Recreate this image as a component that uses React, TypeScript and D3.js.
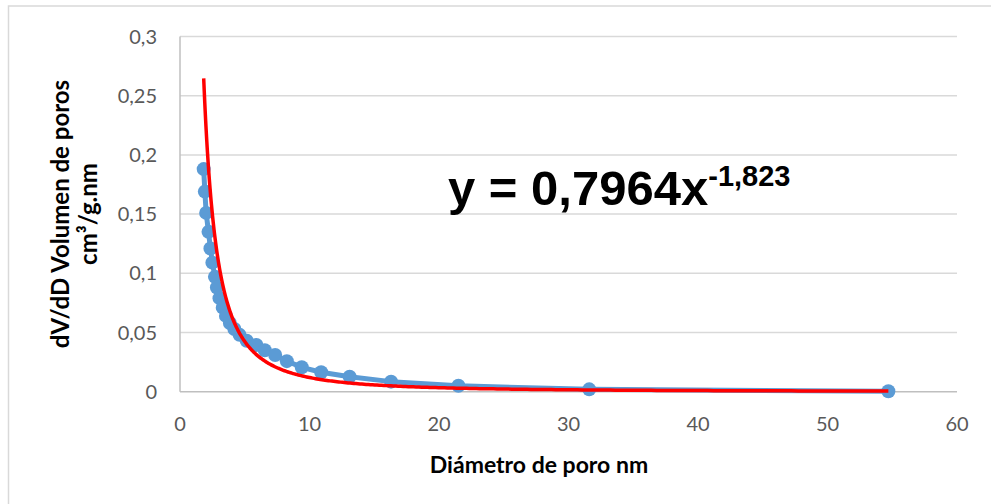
import React from "react";
import * as d3 from "d3";

// Pore diameter (nm) and dV/dD pore volume (cm³/g·nm)
const diameters = [1.83, 1.92, 2.02, 2.2, 2.35, 2.5, 2.7, 2.85, 3.05, 3.3, 3.55, 3.85, 4.2, 4.6, 5.15, 5.9, 6.55, 7.35, 8.25, 9.4, 10.9, 13.1, 16.3, 21.5, 31.6, 54.7];
const volumes = [0.188, 0.169, 0.151, 0.135, 0.121, 0.109, 0.097, 0.088, 0.079, 0.071, 0.064, 0.058, 0.053, 0.048, 0.043, 0.0395, 0.035, 0.031, 0.0258, 0.0206, 0.0164, 0.0127, 0.0085, 0.005, 0.002, 0.0004];

// Power trendline y = a·x^b
const fitA = 0.7964;
const fitB = -1.823;

const xTicks = [0, 10, 20, 30, 40, 50, 60];
const yTicks = [0, 0.05, 0.1, 0.15, 0.2, 0.25, 0.3];

const W = 991;
const H = 504;
const plot = { left: 180, right: 957, top: 36.5, bottom: 391.7 };

const fmt = (v: number) => String(v).replace(".", ",");

export default function App() {
  const x = d3.scaleLinear().domain([0, 60]).range([plot.left, plot.right]);
  const y = d3.scaleLinear().domain([0, 0.3]).range([plot.bottom, plot.top]);

  const points = diameters.map((d, i) => [d, volumes[i]] as [number, number]);
  const dataLine = d3.line<[number, number]>().x((p) => x(p[0])).y((p) => y(p[1]));

  const x0 = d3.min(diameters)!;
  const x1 = d3.max(diameters)!;
  const logScale = d3.scaleLog().domain([x0, x1]);
  const trend: [number, number][] = d3.range(0, 301).map((i) => {
    const xv = logScale.invert(i / 300);
    return [xv, fitA * Math.pow(xv, fitB)];
  });

  const font = "Lato, 'Open Sans', sans-serif";

  return (
    <svg width={W} height={H} style={{ position: "absolute", left: 0, top: 0, background: "#fff" }}>
      <rect x={0} y={0} width={W} height={H} fill="#fff" />
      <rect x={8.5} y={6} width={W + 20} height={H + 20} fill="none" stroke="#d9d9d9" strokeWidth={1.5} />

      {/* gridlines */}
      {yTicks.filter((t) => t > 0).map((t) => (
        <line key={t} x1={plot.left} x2={plot.right} y1={y(t)} y2={y(t)} stroke="#d9d9d9" strokeWidth={1.5} />
      ))}
      {/* axes */}
      <line x1={plot.left} x2={plot.left} y1={plot.top} y2={plot.bottom} stroke="#bfbfbf" strokeWidth={1.5} />
      <line x1={plot.left} x2={plot.right} y1={plot.bottom} y2={plot.bottom} stroke="#bfbfbf" strokeWidth={1.5} />

      {/* tick labels */}
      {yTicks.map((t) => (
        <text key={t} x={157} y={y(t)} dy="0.35em" textAnchor="end" fontFamily={font} fontSize={20} fill="#595959">
          {fmt(t)}
        </text>
      ))}
      {xTicks.map((t) => (
        <text key={t} x={x(t)} y={424} dy="0.35em" textAnchor="middle" fontFamily={font} fontSize={20} fill="#595959">
          {t}
        </text>
      ))}

      {/* axis titles */}
      <text x={539} y={465} dy="0.35em" textAnchor="middle" fontFamily={font} fontWeight="bold" fontSize={23} fill="#000">
        Diámetro de poro nm
      </text>
      <g transform="translate(61,214) rotate(-90)">
        <text x={0} y={0} dy="0.35em" textAnchor="middle" fontFamily={font} fontWeight="bold" fontSize={24} fill="#000">
          dV/dD Volumen de poros
        </text>
        <text x={0} y={28} dy="0.35em" textAnchor="middle" fontFamily={font} fontWeight="bold" fontSize={24} fill="#000">
          cm³/g.nm
        </text>
      </g>

      {/* data series */}
      <path d={dataLine(points) ?? ""} fill="none" stroke="#5b9bd5" strokeWidth={5} strokeLinejoin="round" />
      {points.map((p, i) => (
        <circle key={i} cx={x(p[0])} cy={y(p[1])} r={7} fill="#5b9bd5" />
      ))}

      {/* trendline */}
      <path d={dataLine(trend) ?? ""} fill="none" stroke="#ff0000" strokeWidth={3.5} />

      {/* equation */}
      <text x={448} y={205} fontFamily="'Liberation Sans', Arial, sans-serif" fontWeight="bold" fontSize={49} fill="#000">
        y = 0,7964x
        <tspan fontSize={29} dy={-19}>-1,823</tspan>
      </text>
    </svg>
  );
}
